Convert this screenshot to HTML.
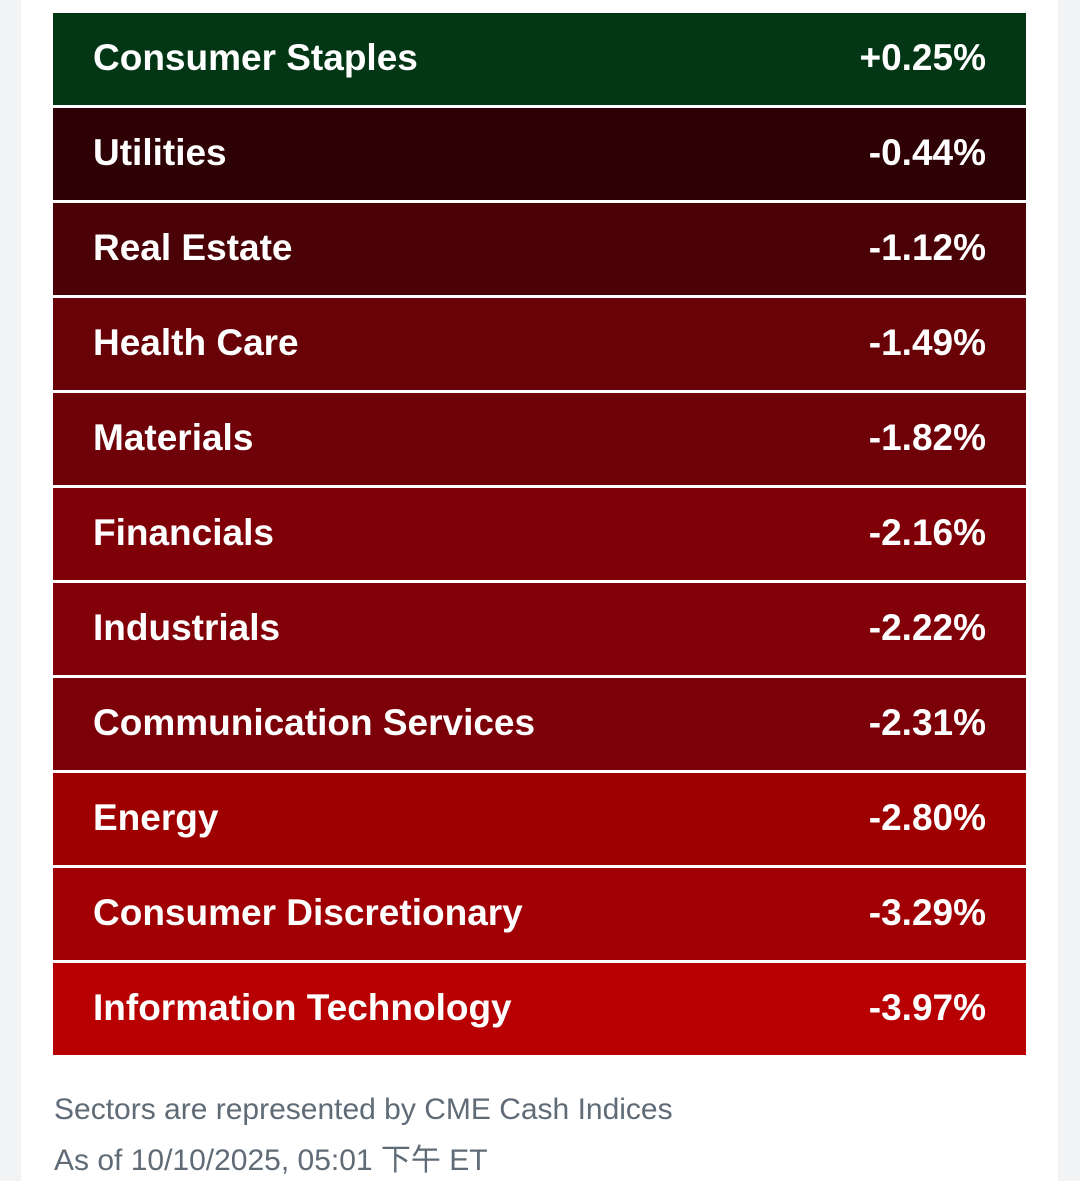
<!DOCTYPE html>
<html><head><meta charset="utf-8"><style>
body{margin:0;width:1080px;height:1181px;background:#f1f3f5;position:relative;overflow:hidden;font-family:"Liberation Sans","Noto Sans CJK SC",sans-serif}
.card{position:absolute;left:21px;top:0;width:1037px;height:1181px;background:#fff}
.r{position:absolute;left:53px;width:973px;height:92px;color:#fff;font-weight:bold;font-size:37px;line-height:90px}
.r span{position:absolute;left:40px}
.r b{position:absolute;right:40px}
.f{position:absolute;left:54px;color:#5f6b76;font-size:30px}
</style></head><body>
<div class="card"></div>
<div class="r" style="top:13px;background:#023614"><span>Consumer Staples</span><b>+0.25%</b></div>
<div class="r" style="top:108px;background:#2e0104"><span>Utilities</span><b>-0.44%</b></div>
<div class="r" style="top:203px;background:#4a0206"><span>Real Estate</span><b>-1.12%</b></div>
<div class="r" style="top:298px;background:#680207"><span>Health Care</span><b>-1.49%</b></div>
<div class="r" style="top:393px;background:#6e0208"><span>Materials</span><b>-1.82%</b></div>
<div class="r" style="top:488px;background:#800008"><span>Financials</span><b>-2.16%</b></div>
<div class="r" style="top:583px;background:#820008"><span>Industrials</span><b>-2.22%</b></div>
<div class="r" style="top:678px;background:#7c0008"><span>Communication Services</span><b>-2.31%</b></div>
<div class="r" style="top:773px;background:#9e0000"><span>Energy</span><b>-2.80%</b></div>
<div class="r" style="top:868px;background:#a00004"><span>Consumer Discretionary</span><b>-3.29%</b></div>
<div class="r" style="top:963px;background:#b80002"><span>Information Technology</span><b>-3.97%</b></div>
<div class="f" style="top:1093px">Sectors are represented by CME Cash Indices</div>
<div class="f" style="top:1135px">As of 10/10/2025, 05:01 下午 ET</div>
</body></html>
